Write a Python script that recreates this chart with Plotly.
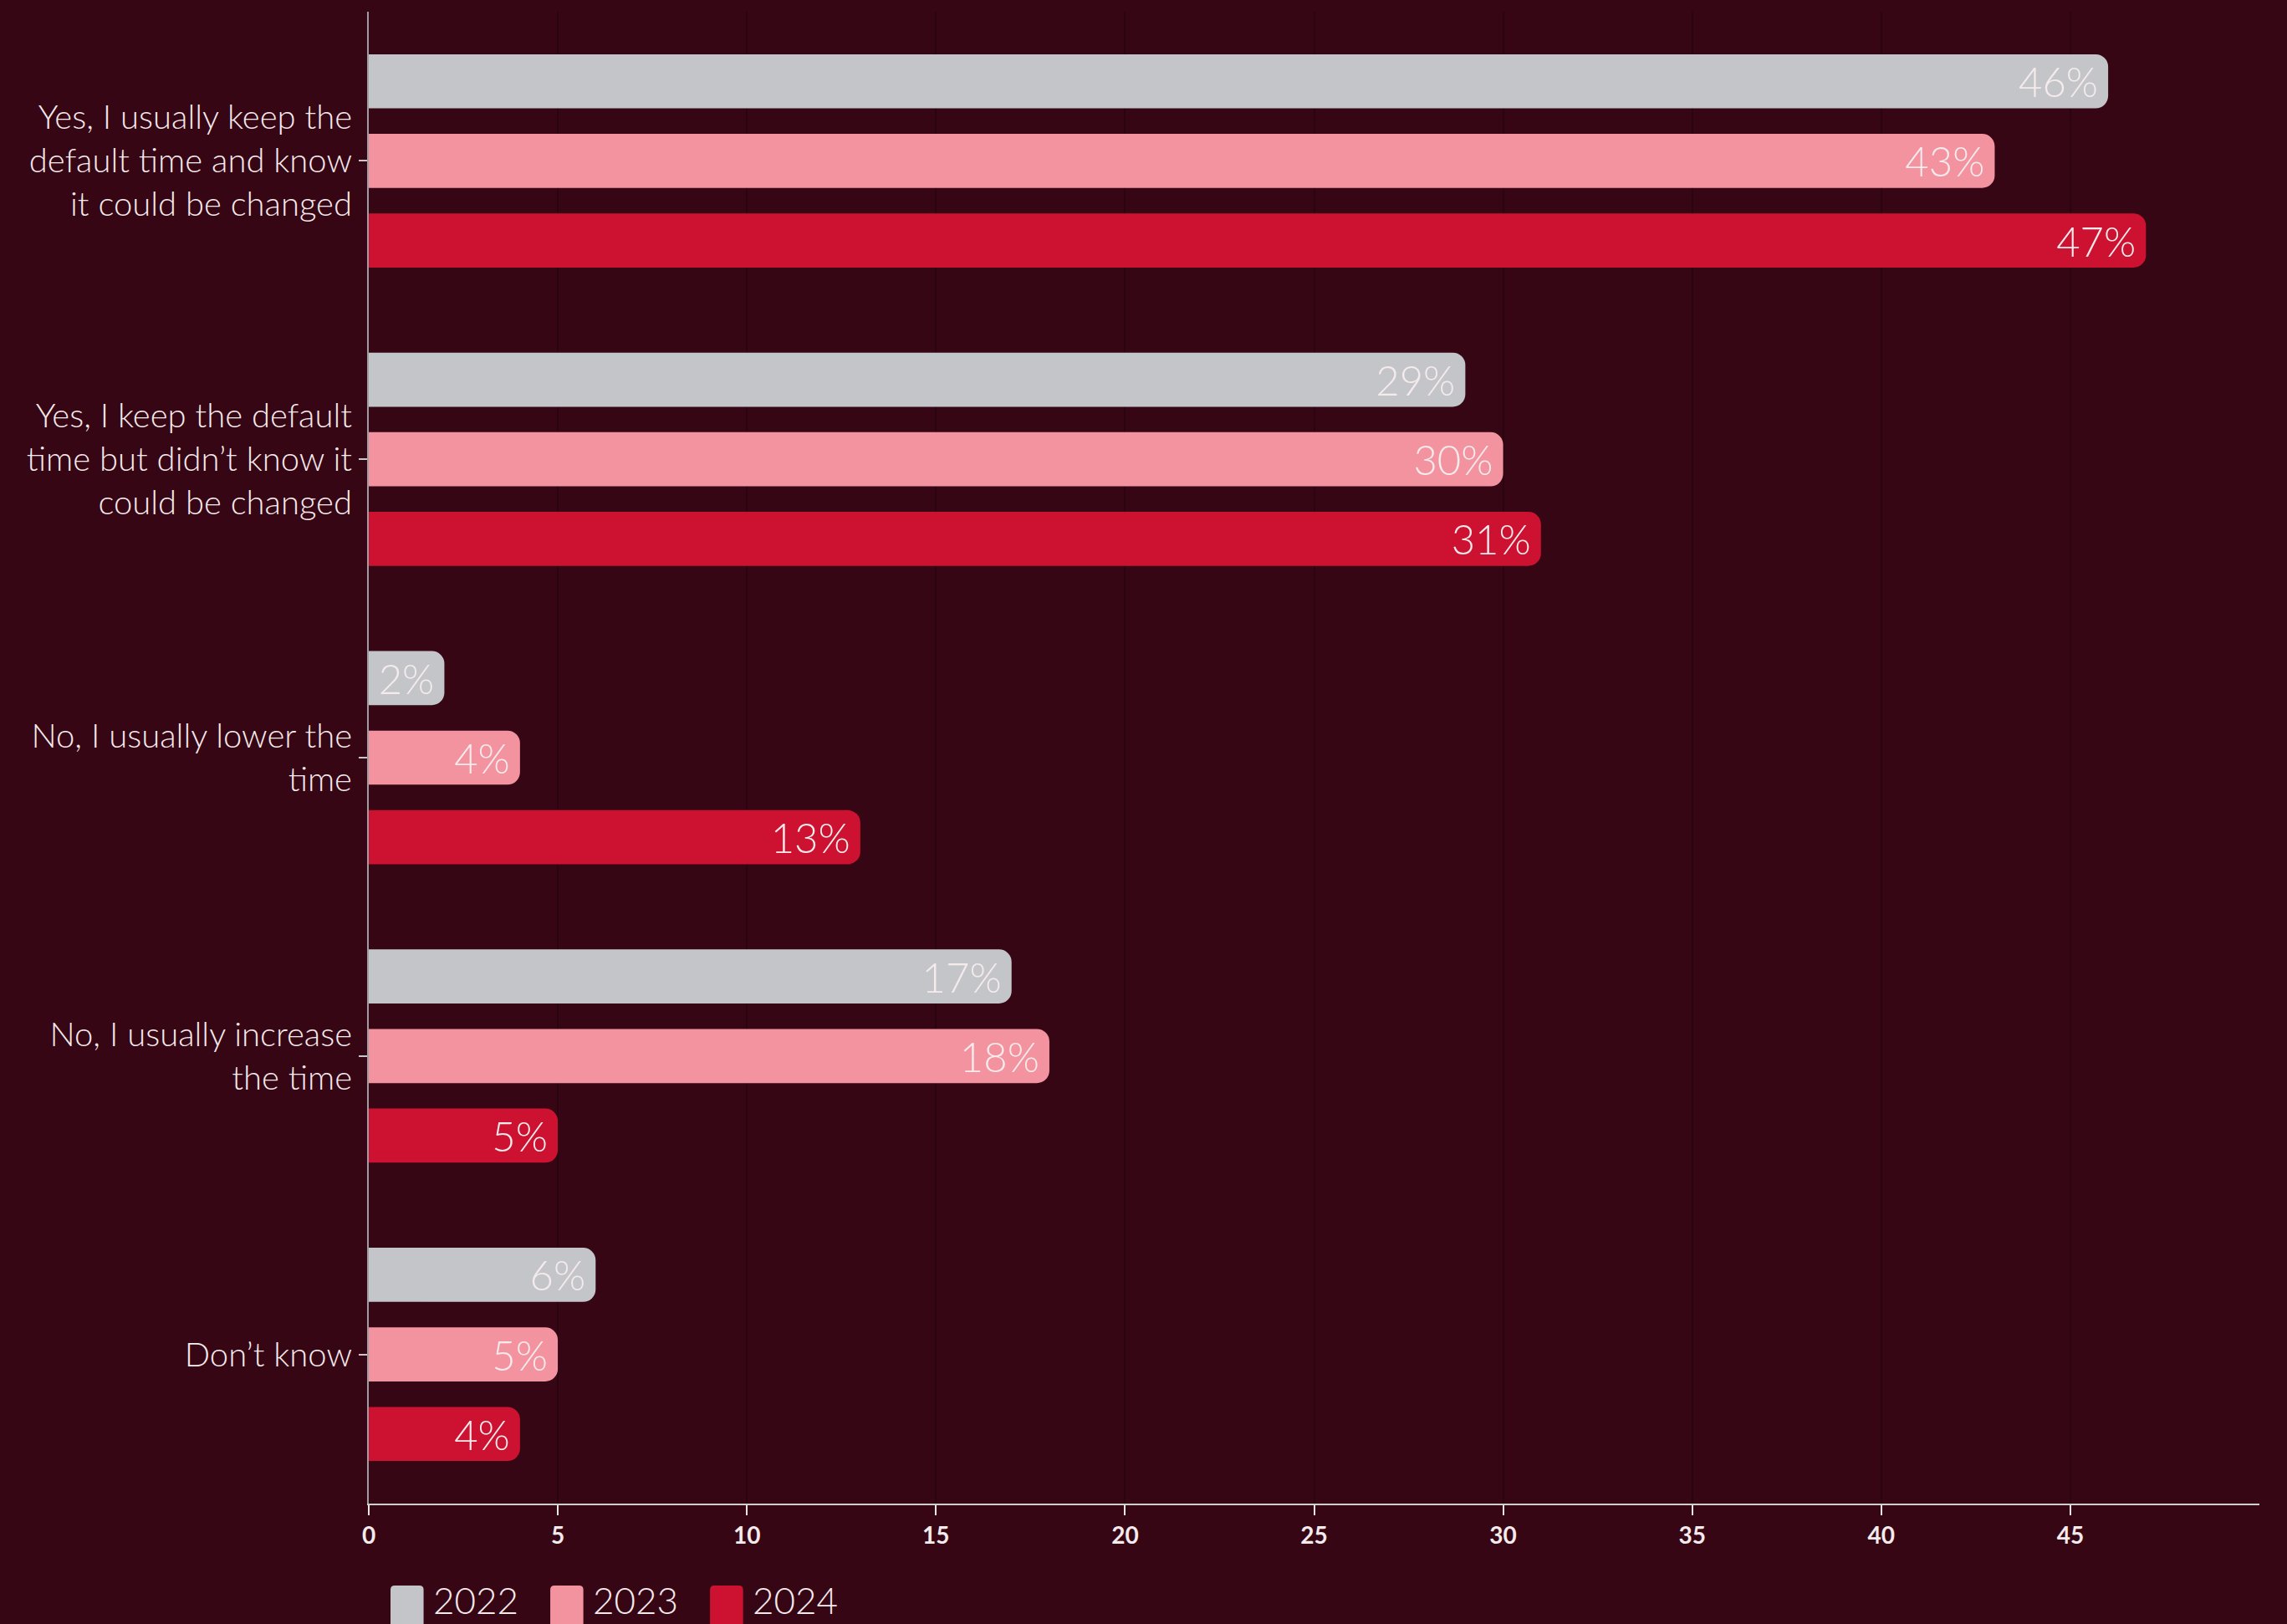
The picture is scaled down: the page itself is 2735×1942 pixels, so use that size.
import plotly.graph_objects as go

# Survey answers (top to bottom) and the share of respondents per year
categories = [
    "Yes, I usually keep the<br>default time and know<br>it could be changed",
    "Yes, I keep the default<br>time but didn\u2019t know it<br>could be changed",
    "No, I usually lower the<br>time",
    "No, I usually increase<br>the time",
    "Don\u2019t know",
]
years = ["2022", "2023", "2024"]
values_2022 = [46, 29, 2, 17, 6]
values_2023 = [43, 30, 4, 18, 5]
values_2024 = [47, 31, 13, 5, 4]
x_ticks = [0, 5, 10, 15, 20, 25, 30, 35, 40, 45]

series = [values_2022, values_2023, values_2024]
colors = ["#C4C5C9", "#F2939F", "#CC1230"]

BG = "#360614"
TEXT = "#F5EAEC"
FONT = "Lato"

fig = go.Figure()
for name, vals, col in zip(years, series, colors):
    fig.add_trace(go.Bar(
        name=name,
        y=categories,
        x=vals,
        orientation="h",
        marker=dict(color=col, line=dict(width=0)),
        text=[f"{v}%" for v in vals],
        textposition="inside",
        insidetextanchor="end",
        textfont=dict(family=FONT, size=49, color=TEXT, weight=300),
        showlegend=False,
    ))

fig.update_layout(
    width=2735,
    height=1942,
    paper_bgcolor=BG,
    plot_bgcolor=BG,
    barmode="group",
    bargap=0.2,
    bargroupgap=0.32,
    barcornerradius=15,
    margin=dict(l=441, r=33, t=14, b=144),
    uniformtext=dict(minsize=49, mode="show"),
    font=dict(family=FONT, color=TEXT),
)

fig.update_xaxes(
    range=[0, 50],
    tickvals=x_ticks,
    showgrid=True,
    gridcolor="#2A0410",
    gridwidth=2,
    zeroline=False,
    showline=True,
    linecolor="#CFCFD2",
    linewidth=2,
    ticks="outside",
    ticklen=12,
    tickwidth=2,
    tickcolor="#E6E6E8",
    tickfont=dict(family=FONT, size=28, color=TEXT, weight=700),
)

fig.update_yaxes(
    autorange="reversed",
    showgrid=False,
    showline=True,
    linecolor="#9E9EA2",
    linewidth=2,
    ticks="outside",
    ticklen=10,
    tickwidth=2,
    tickcolor="#C8C8CC",
    tickfont=dict(family=FONT, size=40, color=TEXT, weight=300),
)

# Legend row under the axis: rounded swatch + year label for each series
plot_h = 1942 - 14 - 144
x0 = 0.0115
for name, col in zip(years, colors):
    w, h, r = 0.0175, 0.03, 0.0022
    y_top = -0.055
    y_bot = y_top - h
    rr = r * 1.25
    path = (
        f"M {x0 + r},{y_top} L {x0 + w - r},{y_top} "
        f"Q {x0 + w},{y_top} {x0 + w},{y_top - rr} "
        f"L {x0 + w},{y_bot} L {x0},{y_bot} L {x0},{y_top - rr} "
        f"Q {x0},{y_top} {x0 + r},{y_top} Z"
    )
    fig.add_shape(type="path", path=path, xref="paper", yref="paper",
                  fillcolor=col, line=dict(width=0))
    fig.add_annotation(
        x=x0 + w + 0.004, y=-(1941 - 1798) / plot_h, xref="paper", yref="paper",
        text=name, showarrow=False, xanchor="left", yanchor="bottom",
        font=dict(family=FONT, size=44, color=TEXT, weight=300),
    )
    x0 += 0.0845

fig.write_html("out.html")
